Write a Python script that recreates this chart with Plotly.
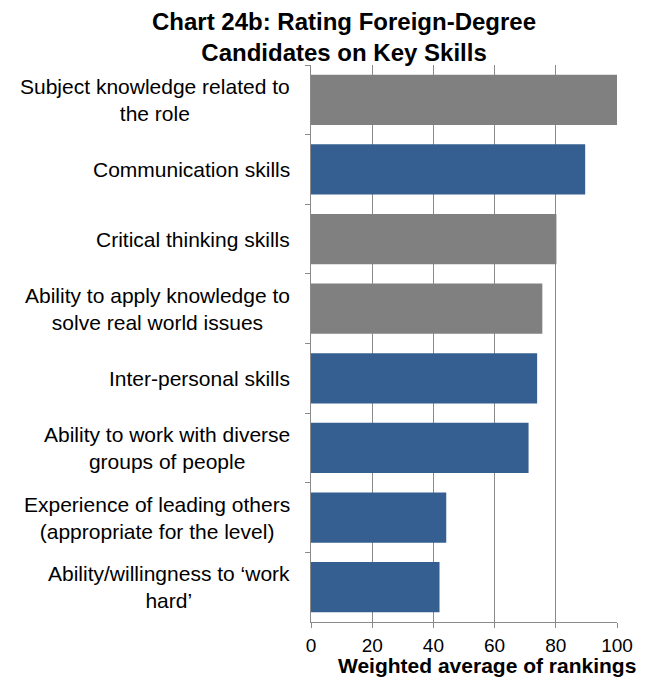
import plotly.graph_objects as go

# Skills rated for foreign-degree candidates (top to bottom)
skills = [
    "Subject knowledge related to<br>the role",
    "Communication skills",
    "Critical thinking skills",
    "Ability to apply knowledge to<br>solve real world issues",
    "Inter-personal skills",
    "Ability to work with diverse<br>groups of people",
    "Experience of leading others<br>(appropriate for the level)",
    "Ability/willingness to ‘work<br>hard’",
]
scores = [100, 89.6, 80.2, 75.6, 73.9, 71.1, 44.2, 42.0]
highlight = [True, False, True, True, False, False, False, False]
x_ticks = [0, 20, 40, 60, 80, 100]

GREY = "#808080"
BLUE = "#365F91"
AXIS = "#8a8a8a"
FONT = "Liberation Sans, Arial, sans-serif"
colors = [GREY if h else BLUE for h in highlight]

fig = go.Figure(
    go.Bar(
        x=scores,
        y=skills,
        orientation="h",
        marker=dict(color=colors, line=dict(width=0)),
        width=0.72,
    )
)

# Category labels: centred lines, block right-aligned beside the axis
for s in skills:
    fig.add_annotation(
        x=0, xref="paper", xanchor="right", xshift=-19,
        y=s, yref="y", yanchor="middle",
        text=s, showarrow=False, align="center",
        font=dict(size=21, family=FONT, color="black"),
    )

# Chart title (two lines)
fig.add_annotation(
    x=0.108, xref="paper", xanchor="center",
    y=1, yref="paper", yanchor="bottom", yshift=-3,
    text="<b>Chart 24b: Rating Foreign-Degree<br>Candidates on Key Skills</b>",
    showarrow=False, align="center",
    font=dict(size=24, family=FONT, color="black"),
)

# Value axis title
fig.add_annotation(
    x=0.5, xref="paper", xanchor="center", xshift=23,
    y=0, yref="paper", yanchor="top", yshift=-30,
    text="<b>Weighted average of rankings</b>",
    showarrow=False,
    font=dict(size=21, family=FONT, color="black"),
)

fig.update_layout(
    width=658,
    height=682,
    margin=dict(l=311, r=41, t=65, b=60),
    paper_bgcolor="white",
    plot_bgcolor="white",
    showlegend=False,
    font=dict(family=FONT, color="black"),
)

fig.update_xaxes(
    range=[0, 100],
    tickvals=x_ticks,
    showgrid=True,
    gridcolor=AXIS,
    gridwidth=1,
    showline=True,
    linecolor=AXIS,
    ticks="outside",
    ticklen=5,
    tickcolor=AXIS,
    tickfont=dict(size=19),
    ticklabelstandoff=1,
    zeroline=False,
)

fig.update_yaxes(
    autorange="reversed",
    showline=True,
    linecolor=AXIS,
    ticks="outside",
    ticklen=5,
    tickcolor=AXIS,
    tickson="boundaries",
    showticklabels=False,
    showgrid=False,
)

fig.write_html("out.html")
